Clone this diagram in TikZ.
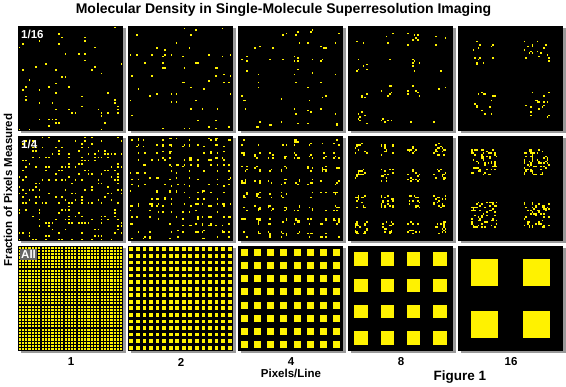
\documentclass[tikz,border=0pt]{standalone}
\usepackage{fontspec}
\setmainfont{Liberation Sans}
\usetikzlibrary{shadows}

\begin{document}
\begin{tikzpicture}[x=1pt,y=-1pt,
  panelstyle/.style={fill=black,minimum size=105pt,inner sep=0pt,outer sep=0pt,anchor=north west,
    drop shadow={shadow xshift=2.5pt,shadow yshift=-2.5pt,fill=black!40,opacity=1}},
  dotstyle/.style={fill=yellow},
  tagstyle/.style={text=white,font=\bfseries\fontsize{11.5}{12}\selectfont,inner sep=1pt,anchor=north west},
  axisstyle/.style={font=\bfseries\fontsize{11.5}{12}\selectfont}]
  \useasboundingbox (0,0) rectangle (566,387);
  \pgfmathsetseed{12}
  \pgfmathsetmacro\pix{105/64}

  % panels
  \foreach \c in {0,...,4}
    \foreach \r in {0,...,2}
      \node [panelstyle] (p\c\r) at (18+110*\c,26+110*\r) {};

  \foreach \c/\n in {0/32,1/16,2/8,3/4,4/2}
  {
    \pgfmathtruncatemacro\cell{64/\n}
    \pgfmathsetmacro\side{32/\n}
    \pgfmathtruncatemacro\nmax{\n-1}
    % sampled pixels, 1/16 and 1/4
    \foreach \r/\cnt in {0/64,1/256}
      \foreach \k in {1,...,\cnt}
      {
        \pgfmathtruncatemacro\i{rnd*\n}
        \pgfmathtruncatemacro\j{rnd*\n}
        \pgfmathtruncatemacro\u{rnd*\side}
        \pgfmathtruncatemacro\v{rnd*\side}
        \fill [dotstyle] ({18+110*\c+(\cell*\i+\side/2+\u)*\pix},{26+110*\r+(\cell*\j+\side/2+\v)*\pix})
          rectangle ++(\pix,\pix);
      }
    % all pixels
    \foreach \i in {0,...,\nmax}
      \foreach \j in {0,...,\nmax}
        \fill [dotstyle] ({18+110*\c+(\cell*\i+\side/2)*\pix-0.25},{246+(\cell*\j+\side/2)*\pix-0.25})
          rectangle ++(\side*\pix+0.5,\side*\pix+0.5);
  }

  \node [tagstyle] (f1) at (20,29) {1/16};
  \node [tagstyle] (f2) at (20,139) {1/4};
  \node [tagstyle,fill=black!60] (f3) at (20,249) {All};

  \foreach \c/\lab in {0/1,1/2,2/4,3/8,4/16}
    \node [axisstyle] (x\c) at (71+110*\c,362) {\lab};
  \node [axisstyle] (xlabel) at (291,373.5) {Pixels/Line};
  \node [axisstyle,rotate=90] (ylabel) at (8,190) {Fraction of Pixels Measured};
  \node [font=\bfseries\fontsize{14}{16}\selectfont] (title) at (283.5,10)
    {Molecular Density in Single-Molecule Superresolution Imaging};
  \node [font=\bfseries\fontsize{13.5}{15}\selectfont] (fig) at (460,377) {Figure 1};
\end{tikzpicture}
\end{document}
